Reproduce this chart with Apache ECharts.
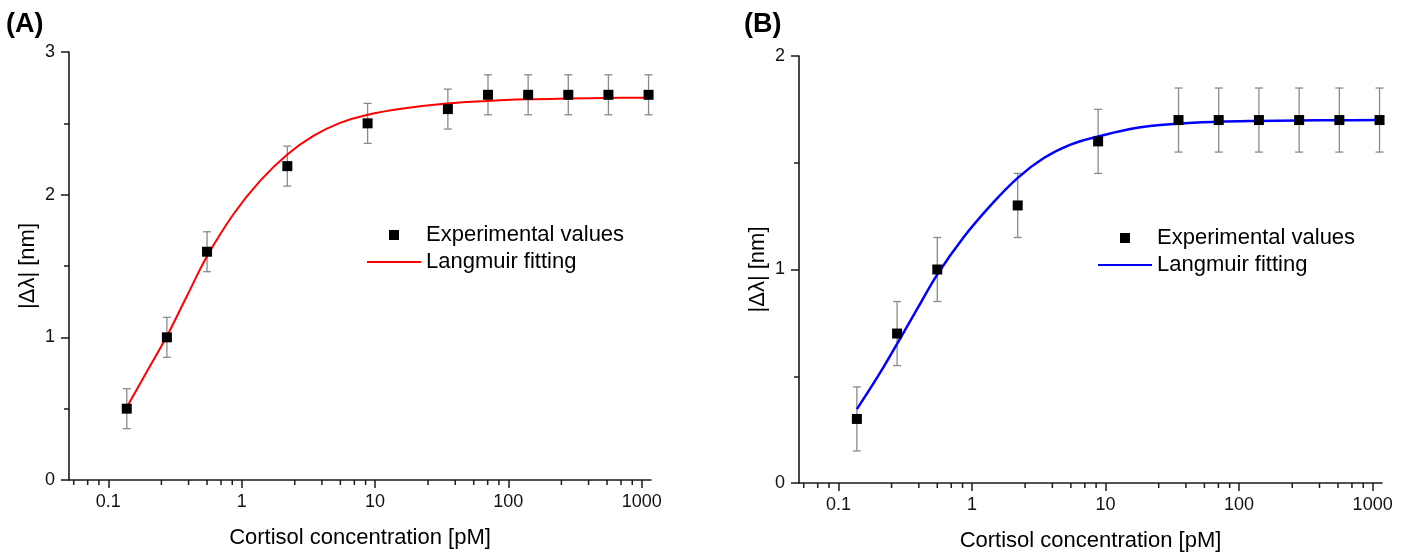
<!DOCTYPE html>
<html>
<head>
<meta charset="utf-8">
<script src="https://cdn.jsdelivr.net/npm/echarts@6/dist/echarts.min.js"></script>
<style>
html,body{margin:0;padding:0;background:#fff;}
#c{width:1409px;height:557px;}
</style>
</head>
<body>
<div id="c"></div>
<script>
// ---- data ----
const CONC = [0.1375, 0.275, 0.55, 2.2, 8.8, 35.2, 70.4, 140.8, 281.6, 563.2, 1126.4];

const A_VALUES = [0.5, 1.0, 1.6, 2.2, 2.5, 2.6, 2.7, 2.7, 2.7, 2.7, 2.7];
const A_ERRORS = [0.14, 0.14, 0.14, 0.14, 0.14, 0.14, 0.14, 0.14, 0.14, 0.14, 0.14];
const B_VALUES = [0.3, 0.7, 1.0, 1.3, 1.6, 1.7, 1.7, 1.7, 1.7, 1.7, 1.7];
const B_ERRORS = [0.15, 0.15, 0.15, 0.15, 0.15, 0.15, 0.15, 0.15, 0.15, 0.15, 0.15];

const A_FIT_X = [0.1375, 0.2, 0.275, 0.387, 0.55, 0.867, 1.374, 2.2, 3.45, 5.47, 8.67, 17.3, 34.6, 69, 138, 276, 552, 1126.4];
const A_FIT_Y = [0.51, 0.779, 1.009, 1.286, 1.568, 1.863, 2.097, 2.282, 2.412, 2.503, 2.559, 2.607, 2.639, 2.657, 2.668, 2.674, 2.678, 2.680];
const B_FIT_X = [0.1375, 0.2, 0.275, 0.389, 0.548, 0.869, 1.38, 2.18, 3.45, 5.47, 8.67, 17.3, 34.6, 69, 138, 276, 552, 1126.4];
const B_FIT_Y = [0.346, 0.505, 0.652, 0.815, 0.975, 1.152, 1.300, 1.427, 1.522, 1.585, 1.622, 1.664, 1.683, 1.692, 1.696, 1.698, 1.699, 1.700];

const X_MAJOR_TICKS = [0.1, 1, 10, 100, 1000];
const X_MINOR_TICKS = [0.055, 0.07, 0.085, 0.25, 0.4, 0.55, 0.7, 0.85, 2.5, 4, 5.5, 7, 8.5,
                       25, 40, 55, 70, 85, 250, 400, 550, 700, 850];
const X_NAME = 'Cortisol concentration [pM]';
const Y_NAME = '|\u0394\u03bb| [nm]';
const PANEL_LABELS = ['(A)', '(B)'];
const SERIES_NAMES = ['Experimental values', 'Langmuir fitting'];

// ---- chart ----
const FONT = '"Liberation Sans", Arial, sans-serif';
const AXIS_COLOR = '#1a1a1a';
const chart = echarts.init(document.getElementById('c'), null, {renderer: 'canvas'});

function pairs(xs, ys) { return xs.map((x, i) => [x, ys[i]]); }
function triples(xs, ys, es) { return xs.map((x, i) => [x, ys[i], es[i]]); }

function errorBarItem(params, api) {
  const x = api.value(0), y = api.value(1), e = api.value(2);
  const top = api.coord([x, y + e]);
  const bot = api.coord([x, y - e]);
  const hw = 4;
  const style = {stroke: '#8a8a8a', lineWidth: 1.3};
  return {
    type: 'group',
    children: [
      {type: 'line', shape: {x1: top[0], y1: top[1], x2: bot[0], y2: bot[1]}, style: style},
      {type: 'line', shape: {x1: top[0] - hw, y1: top[1], x2: top[0] + hw, y2: top[1]}, style: style},
      {type: 'line', shape: {x1: bot[0] - hw, y1: bot[1], x2: bot[0] + hw, y2: bot[1]}, style: style}
    ]
  };
}
function minorTickItem(params, api) {
  const p = api.coord([api.value(0), api.value(1)]);
  return {type: 'line', shape: {x1: p[0], y1: p[1], x2: p[0], y2: p[1] + 5},
          style: {stroke: AXIS_COLOR, lineWidth: 1.5}};
}

function xAxisDef(gridIndex) {
  return {
    type: 'log', logBase: 10, gridIndex: gridIndex,
    min: 0.0507, max: 1175,
    name: X_NAME, nameLocation: 'middle', nameGap: 47,
    nameTextStyle: {fontFamily: FONT, fontSize: 22, color: '#000'},
    axisLine: {show: true, onZero: false, lineStyle: {color: AXIS_COLOR, width: 1.6}},
    axisTick: {show: true, inside: false, length: 8, customValues: X_MAJOR_TICKS,
               lineStyle: {color: AXIS_COLOR, width: 1.5}},
    minorTick: {show: false},
    axisLabel: {show: true, customValues: X_MAJOR_TICKS, margin: 13,
                fontFamily: FONT, fontSize: 18, color: '#111',
                formatter: v => String(v)},
    splitLine: {show: false}
  };
}
function yAxisDef(gridIndex, max) {
  return {
    type: 'value', gridIndex: gridIndex, min: 0, max: max, interval: 1,
    name: Y_NAME, nameLocation: 'middle', nameGap: 30,
    nameTextStyle: {fontFamily: FONT, fontSize: 22, color: '#000'},
    axisLine: {show: true, onZero: false, lineStyle: {color: AXIS_COLOR, width: 1.6}},
    axisTick: {show: true, inside: false, length: 8, lineStyle: {color: AXIS_COLOR, width: 1.5}},
    minorTick: {show: true, splitNumber: 2, length: 5, lineStyle: {color: AXIS_COLOR, width: 1.5}},
    axisLabel: {margin: 14, fontFamily: FONT, fontSize: 18, color: '#111'},
    splitLine: {show: false}
  };
}

function panelSeries(idx, values, errors, fitX, fitY, color, width) {
  return [
    {
      type: 'custom', xAxisIndex: idx, yAxisIndex: idx, silent: true, clip: false, z: 1,
      renderItem: minorTickItem, encode: {x: 0, y: 1},
      data: X_MINOR_TICKS.map(v => [v, 0])
    },
    {
      type: 'custom', xAxisIndex: idx, yAxisIndex: idx, silent: true, z: 2,
      renderItem: errorBarItem, encode: {x: 0, y: 1},
      data: triples(CONC, values, errors)
    },
    {
      name: SERIES_NAMES[1], type: 'line', xAxisIndex: idx, yAxisIndex: idx,
      smooth: 0.4, symbol: 'none', z: 3, silent: true,
      lineStyle: {color: color, width: width}, itemStyle: {color: color},
      data: pairs(fitX, fitY)
    },
    {
      name: SERIES_NAMES[0], type: 'scatter', xAxisIndex: idx, yAxisIndex: idx,
      symbol: 'rect', symbolSize: 10, z: 4, silent: true,
      itemStyle: {color: '#000', opacity: 1},
      data: pairs(CONC, values)
    }
  ];
}

function legendDef(left, top, color) {
  return {
    orient: 'vertical', left: left, top: top, padding: 0,
    itemWidth: 54, itemHeight: 10, itemGap: 1, selectedMode: false,
    textStyle: {fontFamily: FONT, fontSize: 22, color: '#000', lineHeight: 26},
    data: [
      {name: SERIES_NAMES[0], icon: 'path://M0,0H10V10H0Z', itemStyle: {opacity: 1}},
      {name: SERIES_NAMES[1], itemStyle: {opacity: 0}, lineStyle: {color: color, width: 2}}
    ]
  };
}

const option = {
  animation: false,
  backgroundColor: '#fff',
  title: [
    {text: PANEL_LABELS[0], left: 6, top: 11, padding: 0,
     textStyle: {fontFamily: FONT, fontSize: 27, fontWeight: 'bold', color: '#000'}},
    {text: PANEL_LABELS[1], left: 744, top: 11, padding: 0,
     textStyle: {fontFamily: FONT, fontSize: 27, fontWeight: 'bold', color: '#000'}}
  ],
  legend: [legendDef(366, 222, '#ff0000'), legendDef(1097, 225, '#0000ff')],
  grid: [
    {left: 69, right: 758, top: 52, bottom: 77, containLabel: false},
    {left: 799, right: 27, top: 56, bottom: 73, containLabel: false}
  ],
  xAxis: [xAxisDef(0), xAxisDef(1)],
  yAxis: [yAxisDef(0, 3), yAxisDef(1, 2)],
  series: [].concat(
    panelSeries(0, A_VALUES, A_ERRORS, A_FIT_X, A_FIT_Y, '#ff0000', 2),
    panelSeries(1, B_VALUES, B_ERRORS, B_FIT_X, B_FIT_Y, '#0000ff', 2.5)
  )
};
chart.setOption(option);
</script>
</body>
</html>
